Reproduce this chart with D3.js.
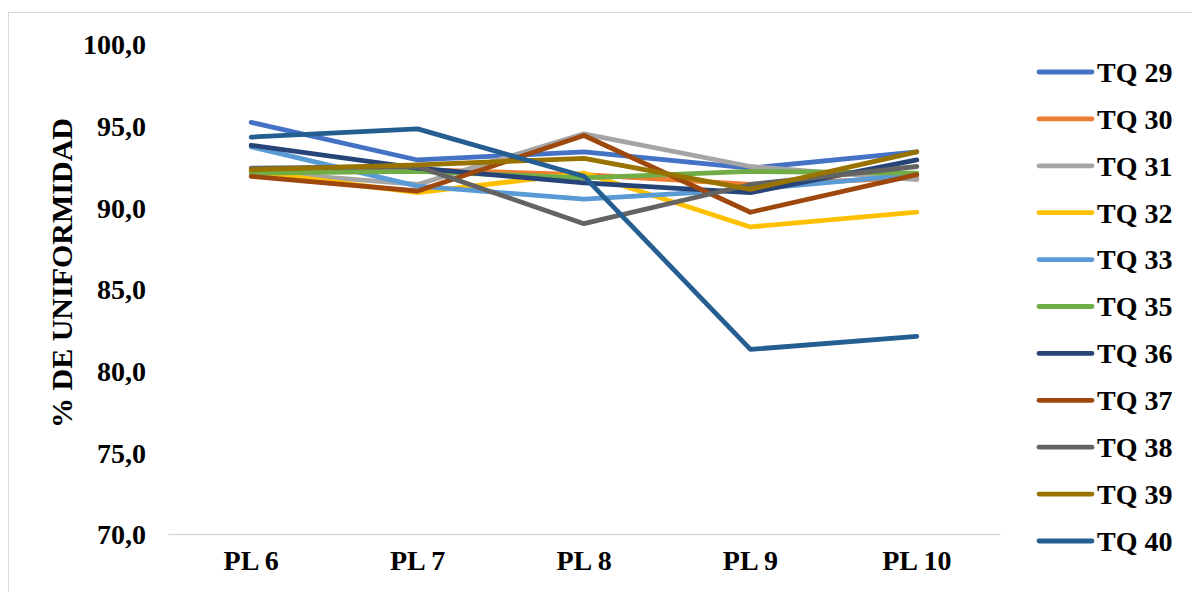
<!DOCTYPE html>
<html>
<head>
<meta charset="utf-8">
<script src="https://cdn.jsdelivr.net/npm/d3@7"></script>
<style>
  html, body { margin: 0; padding: 0; background: #fff; }
  svg { display: block; }
  text { font-family: "Liberation Serif", "Times New Roman", serif; font-weight: bold; fill: #000; }
</style>
</head>
<body>
<svg id="chart" width="1192" height="592"></svg>
<script>
// Plant stations on the x axis
const categories = ["PL 6", "PL 7", "PL 8", "PL 9", "PL 10"];

// Uniformity (%) per tank
const tq29 = [95.2, 92.9, 93.4, 92.4, 93.4];
const tq30 = [92.2, 92.3, 92.0, 91.4, 91.8];
const tq31 = [92.2, 91.4, 94.5, 92.5, 91.7];
const tq32 = [92.2, 90.9, 92.1, 88.8, 89.7];
const tq33 = [93.7, 91.3, 90.5, 91.1, 92.0];
const tq35 = [92.1, 92.2, 91.8, 92.2, 92.1];
const tq36 = [93.8, 92.4, 91.5, 90.9, 92.9];
const tq37 = [91.9, 91.0, 94.4, 89.7, 92.0];
const tq38 = [92.4, 92.5, 89.0, 91.4, 92.5];
const tq39 = [92.3, 92.6, 93.0, 91.1, 93.4];
const tq40 = [94.3, 94.8, 91.9, 81.3, 82.1];

const seriesNames = ["TQ 29", "TQ 30", "TQ 31", "TQ 32", "TQ 33", "TQ 35", "TQ 36", "TQ 37", "TQ 38", "TQ 39", "TQ 40"];
const seriesValues = [tq29, tq30, tq31, tq32, tq33, tq35, tq36, tq37, tq38, tq39, tq40];
const seriesColors = ["#4472C4", "#ED7D31", "#A5A5A5", "#FFC000", "#5B9BD5", "#70AD47",
                      "#264478", "#9E480E", "#636363", "#997300", "#255E91"];

const yTicks = [70, 75, 80, 85, 90, 95, 100];

const svg = d3.select("#chart");

// chart frame
svg.append("rect")
  .attr("x", 8.5).attr("y", 12.5)
  .attr("width", 1300).attr("height", 700)
  .attr("fill", "none").attr("stroke", "#D9D9D9").attr("stroke-width", 1);

const plot = { left: 168, right: 1000, top: 44, bottom: 534 };

const x = d3.scaleBand().domain(categories).range([plot.left, plot.right]);
const y = d3.scaleLinear().domain([70, 100]).range([plot.bottom, plot.top]);

const fmt = v => d3.format(".1f")(v).replace(".", ",");

// y axis labels (no axis line)
const yAxis = d3.axisLeft(y).tickValues(yTicks).tickFormat(fmt).tickSize(0).tickPadding(0);
const yg = svg.append("g").attr("transform", `translate(146,0)`).call(yAxis);
yg.select(".domain").remove();
yg.selectAll("text").style("font-size", "28px").style("font-family", "Liberation Serif").style("font-weight", "bold").attr("dy", "0.35em");

// x axis
const xAxis = d3.axisBottom(x).tickSize(0).tickPadding(16);
const xg = svg.append("g").attr("transform", `translate(0,${plot.bottom})`).call(xAxis);
xg.select(".domain").attr("stroke", "#D9D9D9").attr("stroke-width", 1.3);
xg.selectAll("text").style("font-size", "28px").style("font-family", "Liberation Serif").style("font-weight", "bold");

// y axis title
svg.append("text")
  .attr("transform", `translate(72,273) rotate(-90)`)
  .attr("text-anchor", "middle")
  .style("font-size", "30px")
  .text("% DE UNIFORMIDAD");

// series lines
const line = d3.line()
  .x((d, i) => x(categories[i]) + x.bandwidth() / 2)
  .y(d => y(d));

svg.append("g").selectAll("path")
  .data(seriesValues)
  .join("path")
  .attr("d", d => line(d))
  .attr("fill", "none")
  .attr("stroke", (d, i) => seriesColors[i])
  .attr("stroke-width", 4.8)
  .attr("stroke-linecap", "round")
  .attr("stroke-linejoin", "round");

// legend
const legend = svg.append("g");
const item = legend.selectAll("g")
  .data(seriesNames)
  .join("g")
  .attr("transform", (d, i) => `translate(1037,${72 + i * 46.9})`);
item.append("line")
  .attr("x1", 2).attr("x2", 55)
  .attr("stroke", (d, i) => seriesColors[i])
  .attr("stroke-width", 4.8)
  .attr("stroke-linecap", "round");
item.append("text")
  .attr("x", 60).attr("dy", "0.35em")
  .style("font-size", "28px")
  .text(d => d);
</script>
</body>
</html>
